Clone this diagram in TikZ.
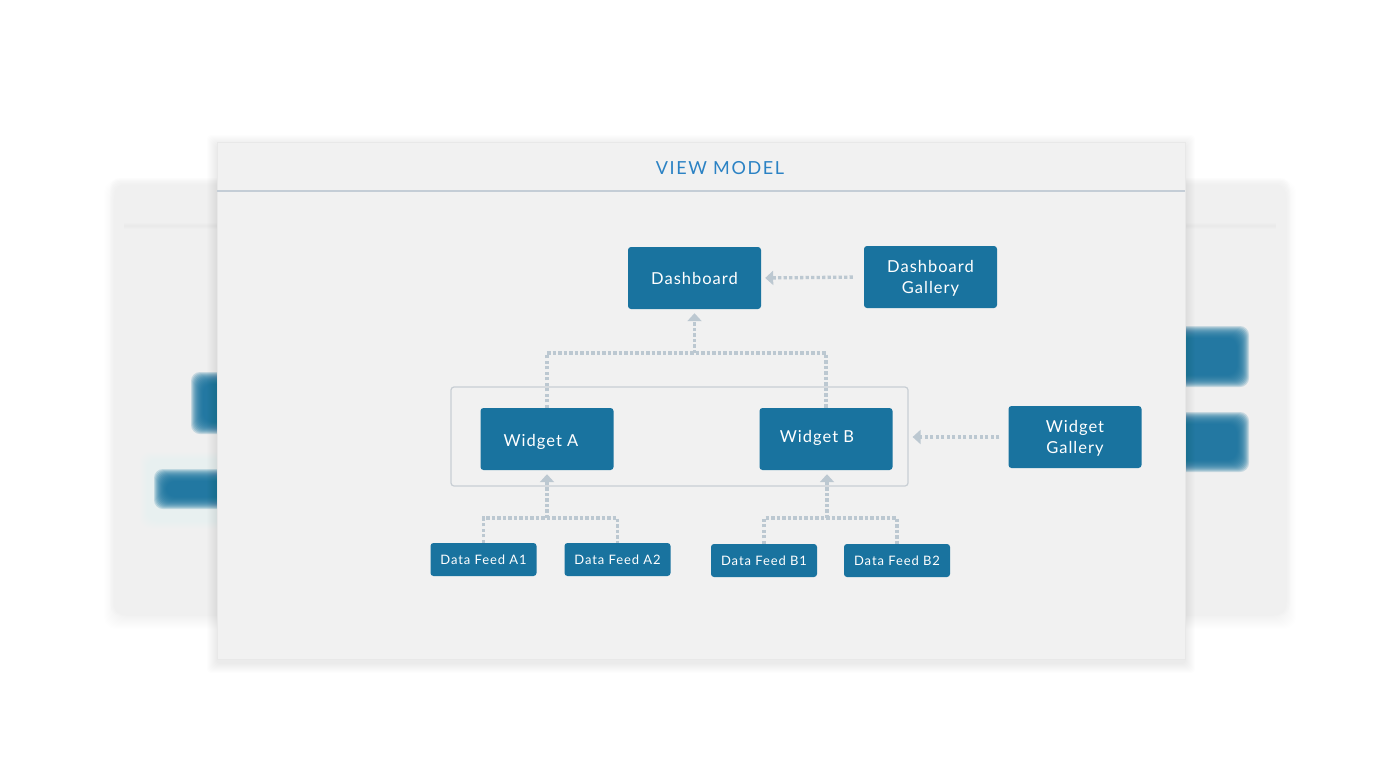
\documentclass[tikz,border=0pt]{standalone}
\usepackage{fontspec}
\setmainfont{Lato}
\newfontfamily\boxfont[LetterSpace=6]{Lato}
\newfontfamily\feedfont[LetterSpace=7]{Lato}
\newfontfamily\titlefont[LetterSpace=9]{Lato}
\usetikzlibrary{arrows.meta}
\definecolor{boxblue}{HTML}{19739F}
\definecolor{titleblue}{HTML}{2B82C4}
\definecolor{dotgray}{HTML}{BCC8D1}
\definecolor{panel}{HTML}{F1F1F1}
\definecolor{backpanel}{HTML}{F0F0F0}
\definecolor{hline}{HTML}{C4CDD6}
\definecolor{groupline}{HTML}{C8CED4}
\begin{document}
\begin{tikzpicture}[x=1pt,y=-1pt,
  box/.style={fill=boxblue, rounded corners=3pt, text=white, inner sep=0pt, align=center,
    font=\boxfont\fontsize{16.5}{21}\selectfont},
  bigbox/.style={box, minimum width=133pt, minimum height=62pt},
  galbox/.style={bigbox, text depth=0pt},
  feedbox/.style={box, minimum width=106pt, minimum height=33pt,
    font=\feedfont\fontsize{13}{16}\selectfont},
  boxtext/.style={text=white, inner sep=0pt, font=\boxfont\fontsize{16.5}{21}\selectfont},
  dotline/.style={dotgray, line width=3.3pt, dash pattern=on 3.3pt off 2.2pt},
  conn/.style={dotline, -{Triangle[width=14pt,length=8pt]}},
]
\useasboundingbox (0,0) rectangle (1400,769);
\fill[white] (0,0) rectangle (1400,769);

% ---- blurred back panel ----
\foreach \i in {1,...,14}
  \fill[black,opacity=0.0045,rounded corners=12pt] (118-\i,186-\i+8) rectangle (1282+\i,607+\i+8);
\foreach \i in {0,...,12}
  \fill[backpanel,opacity=0.16,rounded corners=10pt] (110+\i,178+\i) rectangle (1290-\i,615-\i);
\foreach \i in {0,...,6}
  \fill[black,opacity=0.005] (124,223+\i) rectangle (1276,229-\i);

% blurred boxes on back panel
\foreach \i in {0,...,10}
  \fill[boxblue!10,opacity=0.12,rounded corners=10pt] (140+\i,452+\i) rectangle (240-\i,528-\i);
\foreach \i in {0,...,12}
  \fill[boxblue,opacity=0.2,rounded corners=9pt] (191+\i,372+\i) rectangle (240-\i,434-\i);
\foreach \i in {0,...,12}
  \fill[boxblue,opacity=0.2,rounded corners=9pt] (154+\i,469+\i) rectangle (240-\i,509-\i);
\foreach \i in {0,...,12}
  \fill[boxblue,opacity=0.2,rounded corners=9pt] (1165+\i,326+\i) rectangle (1249-\i,387-\i);
\foreach \i in {0,...,12}
  \fill[boxblue,opacity=0.2,rounded corners=9pt] (1165+\i,412+\i) rectangle (1249-\i,472-\i);

% ---- main panel ----
\foreach \i in {1,...,10}
  \fill[black,opacity=0.006,rounded corners=4pt] (217-\i,142-\i+3) rectangle (1185+\i,659+\i+4);
\fill[panel] (217,142) rectangle (1185,659);
\draw[black!9,line width=0.8pt] (217,142) rectangle (1185,659);
\draw[hline,line width=1.2pt] (217,191) -- (1185,191);
\node[text=titleblue, inner sep=0pt, font=\titlefont\fontsize{18}{22}\selectfont] (title) at (720,168) {VIEW MODEL};

% group box
\node[draw=groupline, line width=1.2pt, rounded corners=3pt, minimum width=457pt, minimum height=99pt, inner sep=0pt] (group) at (679.5,436.5) {};

% nodes
\node[bigbox] (dash) at (694.5,278) {Dashboard};
\node[galbox] (dgal) at (930.5,277) {Dashboard\\Gallery};
\node[bigbox] (wa) at (547,439) {};
\node[boxtext] (waT) at ([xshift=-6pt,yshift=-3pt]wa.center) {Widget A};
\node[bigbox] (wb) at (826,439) {};
\node[boxtext] (wbT) at ([xshift=-9pt,yshift=1pt]wb.center) {Widget B};
\node[galbox] (wgal) at (1075,437) {Widget\\Gallery};
\node[feedbox] (a1) at (483.5,559.5) {Data Feed A1};
\node[feedbox] (a2) at (617.5,559.5) {Data Feed A2};
\node[feedbox] (b1) at (764,560.5) {Data Feed B1};
\node[feedbox] (b2) at (897,560.5) {Data Feed B2};

% connectors
\coordinate (jtop) at (694.5,353);
\coordinate (ja) at (547,518);
\coordinate (jb) at (827,518);
\draw[conn, shorten <=11pt, shorten >=4pt] (dgal.west) -- (dash.east);
\draw[dotline] (wa.north) |- (jtop) -| (wb.north);
\draw[conn, shorten >=4pt] (jtop) -- (dash.south);
\draw[dotline] (a1.north) |- (ja) -| (a2.north);
\draw[conn, shorten >=4pt] (ja) -- (wa.south);
\draw[dotline] (b1.north) |- (jb) -| (b2.north);
\draw[conn, shorten >=4pt] (jb) -- (jb |- wb.south);
\draw[conn, shorten <=9pt, shorten >=4pt] (wgal.west) -- (wgal.west -| group.east);
\end{tikzpicture}
\end{document}
